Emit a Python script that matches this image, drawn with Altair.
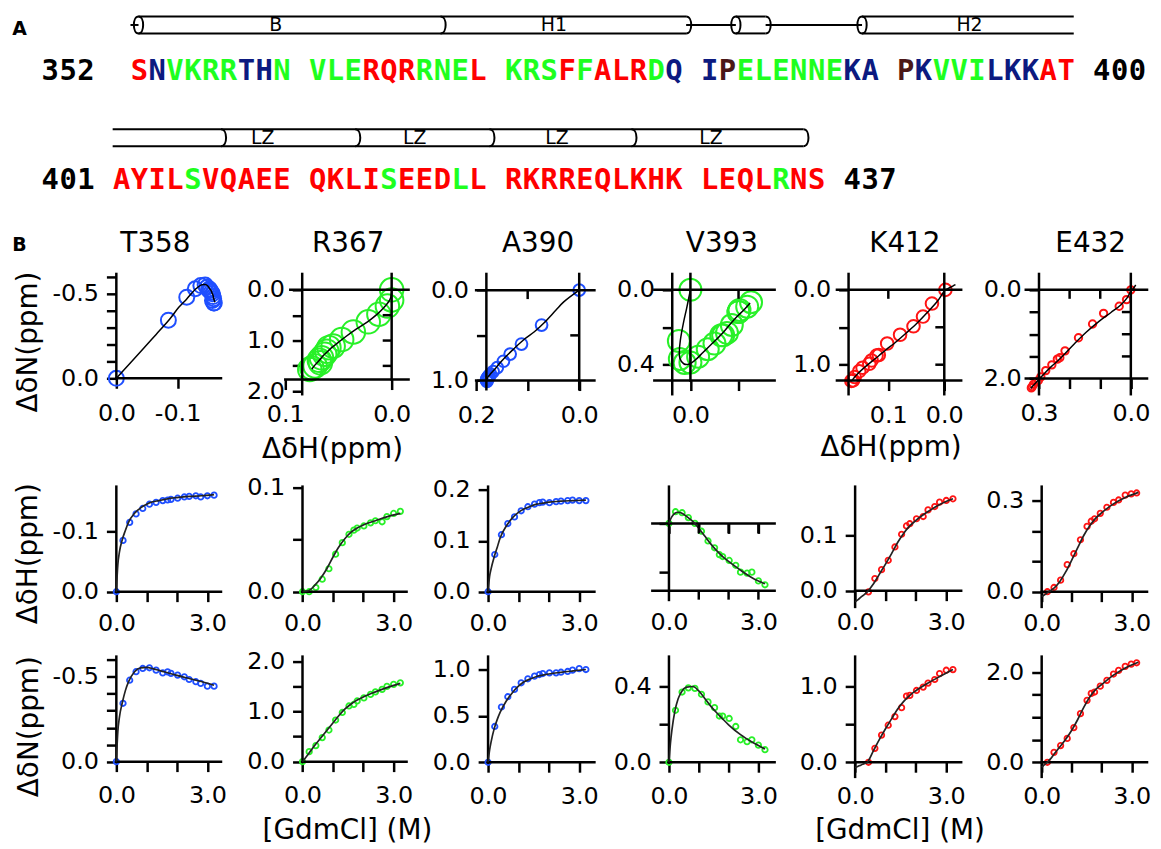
import altair as alt
import pandas as pd

FONT = "DejaVu Sans"
MONO = "DejaVu Sans Mono"

# ------------------------------------------------------------------ panel A data
SEQ_START = [352, 401]
SEQ_TEXT = ["SNVKRRTHN VLERQRRNEL KRSFFALRDQ IPELENNEKA PKVVILKKAT",
            "AYILSVQAEE QKLISEEDLL RKRREQLKHK LEQLRNS"]
# colour class of every residue: r red, g green, b navy, p brown
SEQ_CLASS = ["rbggggbbg gggrrrgggr gggrgrrrgb bpggggggbb pbgggbbbrr",
             "rrrrgrrrrr rrrrgrrrgr rrrrrrrrrr rrrrgrr"]
SEQ_LEAD = [1, 0]
CLASS_NAMES = ["r", "g", "b", "p", "k"]
CLASS_COLORS = ["#ff0000", "#1eff1e", "#0c1a80", "#4b1717", "#000000"]

# secondary-structure cartoon, in sequence-grid units
SS_TUBES = [(0, 1.45, 32.18), (0, 34.97, 36.64), (0, 42.05, 53.93), (1, 0.0, 38.76)]
SS_LINKS = [(0, 1.0, 1.45), (0, 32.18, 34.97), (0, 36.64, 42.05)]
SS_OPEN = [(0, 1.45), (0, 34.97), (0, 42.05)]
SS_CLOSE = [(0, 18.4), (0, 32.18), (0, 36.64), (1, 6.08), (1, 13.61), (1, 21.14),
            (1, 29.11), (1, 38.76)]
SS_LABELS = [(0, 9.15, "B"), (0, 24.76, "H1"), (0, 48.08, "H2"),
             (1, 8.42, "LZ"), (1, 16.95, "LZ"), (1, 24.93, "LZ"), (1, 33.57, "LZ")]

# ------------------------------------------------------------------ panel B data
RESIDUES = ["T358", "R367", "A390", "V393", "K412", "E432"]
RES_COLORS = ["#1f4fff", "#28f028", "#1f4fff", "#28f028", "#ff1414", "#ff1414"]

CONC = [0, 0.22, 0.44, 0.65, 0.87, 1.09, 1.31, 1.53, 1.69, 1.8, 2.02, 2.24, 2.4,
        2.62, 2.78, 3.0, 3.22]
FIT_C = [0, 0.05, 0.1, 0.2, 0.3, 0.4, 0.6, 0.8, 1.0, 1.2, 1.4, 1.6, 1.8, 2.0, 2.4,
         2.8, 3.22]

T358_C = CONC
T358_H = [0, -0.085, -0.115, -0.129, -0.138, -0.145, -0.148, -0.151, -0.152, -0.153,
          -0.155, -0.157, -0.158, -0.159, -0.157, -0.159, -0.160]
T358_N = [0, -0.344, -0.48, -0.53, -0.549, -0.553, -0.539, -0.523, -0.529, -0.52,
          -0.51, -0.50, -0.484, -0.471, -0.461, -0.445, -0.445]
T358_FH = [0, -0.045, -0.065, -0.087, -0.102, -0.115, -0.13, -0.139, -0.145, -0.149,
           -0.151, -0.153, -0.155, -0.156, -0.158, -0.159, -0.161]
T358_FN = [0, -0.18, -0.26, -0.35, -0.42, -0.47, -0.53, -0.553, -0.555, -0.548,
           -0.538, -0.528, -0.518, -0.508, -0.49, -0.472, -0.45]

R367_C = CONC
R367_H = [0, 0.0, 0.004, 0.012, 0.022, 0.036, 0.047, 0.055, 0.059, 0.061, 0.063,
          0.066, 0.068, 0.067, 0.072, 0.075, 0.077]
R367_N = [0, 0.2, 0.32, 0.48, 0.63, 0.83, 0.98, 1.11, 1.14, 1.21, 1.27, 1.34, 1.39,
          1.44, 1.5, 1.54, 1.57]
R367_FH = [0, 0.0, 0.0003, 0.001, 0.003, 0.006, 0.013, 0.022, 0.033, 0.043, 0.051,
           0.057, 0.061, 0.064, 0.068, 0.072, 0.075]
R367_FN = [0, 0.04, 0.08, 0.16, 0.24, 0.32, 0.47, 0.62, 0.77, 0.92, 1.05, 1.15, 1.23,
           1.29, 1.39, 1.48, 1.56]

A390_C = CONC
A390_H = [0, 0.073, 0.112, 0.134, 0.147, 0.159, 0.167, 0.172, 0.175, 0.176, 0.175,
          0.177, 0.178, 0.179, 0.18, 0.179, 0.179]
A390_N = [0, 0.386, 0.596, 0.707, 0.786, 0.857, 0.9, 0.929, 0.946, 0.957, 0.964,
          0.964, 0.971, 0.979, 0.993, 1.01, 1.0]
A390_FH = [0, 0.03, 0.045, 0.068, 0.087, 0.106, 0.129, 0.145, 0.156, 0.163, 0.168,
           0.172, 0.174, 0.176, 0.178, 0.179, 0.18]
A390_FN = [0, 0.13, 0.22, 0.36, 0.46, 0.54, 0.66, 0.75, 0.82, 0.87, 0.9, 0.925, 0.94,
           0.952, 0.97, 0.985, 1.0]

V393_C = CONC
V393_H = [0, 0.012, 0.011, 0.006, 0.0, -0.008, -0.018, -0.025, -0.032, -0.034, -0.038,
          -0.043, -0.05, -0.051, -0.05, -0.059, -0.063]
V393_N = [0, 0.273, 0.369, 0.391, 0.388, 0.357, 0.317, 0.287, 0.243, 0.243, 0.23,
          0.188, 0.118, 0.108, 0.118, 0.09, 0.066]
V393_FH = [0, 0.004, 0.007, 0.0105, 0.0115, 0.011, 0.007, 0.002, -0.005, -0.013,
           -0.021, -0.028, -0.034, -0.039, -0.048, -0.056, -0.062]
V393_FN = [0, 0.1, 0.17, 0.27, 0.33, 0.365, 0.395, 0.398, 0.375, 0.335, 0.295, 0.26,
           0.228, 0.197, 0.145, 0.105, 0.07]

K412_C = CONC[2:]
K412_H = [-0.002, 0.022, 0.038, 0.055, 0.079, 0.102, 0.117, 0.121, 0.13, 0.134, 0.146,
          0.152, 0.16, 0.163, 0.166]
K412_N = [0, 0.183, 0.357, 0.487, 0.6, 0.717, 0.87, 0.878, 0.943, 0.987, 1.04, 1.087,
          1.165, 1.209, 1.217]
K412_FH = [-0.02, -0.018, -0.016, -0.011, -0.007, -0.002, 0.012, 0.03, 0.048, 0.067,
           0.087, 0.104, 0.117, 0.127, 0.143, 0.156, 0.166]
K412_FN = [-0.07, -0.062, -0.053, -0.035, -0.018, 0.0, 0.15, 0.3, 0.44, 0.57, 0.7,
           0.8, 0.88, 0.94, 1.04, 1.13, 1.22]

E432_C = [0.19, 0.41, 0.63, 0.85, 1.07, 1.29, 1.51, 1.65, 1.76, 1.95, 2.17, 2.39, 2.56,
          2.78, 2.98, 3.16]
E432_H = [0.0, 0.014, 0.038, 0.089, 0.125, 0.171, 0.215, 0.232, 0.24, 0.258, 0.278,
          0.294, 0.302, 0.318, 0.322, 0.325]
E432_N = [0, 0.22, 0.37, 0.53, 0.77, 1.08, 1.375, 1.53, 1.56, 1.69, 1.82, 1.96, 2.04,
          2.13, 2.18, 2.21]
E432_FH = [-0.016, -0.013, -0.01, -0.003, 0.004, 0.011, 0.033, 0.065, 0.104, 0.145,
           0.185, 0.217, 0.242, 0.26, 0.29, 0.311, 0.327]
E432_FN = [-0.11, -0.08, -0.05, 0.01, 0.08, 0.17, 0.34, 0.51, 0.71, 0.95, 1.22, 1.45,
           1.62, 1.73, 1.94, 2.1, 2.22]

DATA = {
    "T358": (T358_C, T358_H, T358_N, T358_FH, T358_FN),
    "R367": (R367_C, R367_H, R367_N, R367_FH, R367_FN),
    "A390": (A390_C, A390_H, A390_N, A390_FH, A390_FN),
    "V393": (V393_C, V393_H, V393_N, V393_FH, V393_FN),
    "K412": (K412_C, K412_H, K412_N, K412_FH, K412_FN),
    "E432": (E432_C, E432_H, E432_N, E432_FH, E432_FN),
}

# tick values and tick labels: (row, col) -> (y ticks, y labels, x ticks, x labels)
GDM_T, GDM_L = [0, 1, 2, 3], ["0.0", "", "", "3.0"]
TICKS = {
    (0, 0): ([0, -0.1, -0.2, -0.3, -0.4, -0.5, -0.6], ["0.0", "", "", "", "", "-0.5", ""],
             [0, -0.1], ["0.0", "-0.1"]),
    (0, 1): ([0, 0.5, 1.0, 1.5, 2.0], ["0.0", "", "1.0", "", "2.0"], [0.1, 0.0], ["0.1", "0.0"]),
    (0, 2): ([0, 0.5, 1.0], ["0.0", "", "1.0"], [0.2, 0.1, 0.0], ["0.2", "", "0.0"]),
    (0, 3): ([0, 0.2, 0.4], ["0.0", "", "0.4"], [0.0, -0.05], ["0.0", ""]),
    (0, 4): ([0, 0.5, 1.0], ["0.0", "", "1.0"], [0.1, 0.0], ["0.1", "0.0"]),
    (0, 5): ([0, 0.5, 1.0, 1.5, 2.0], ["0.0", "", "", "", "2.0"], [0.3, 0.2, 0.1, 0.0],
             ["0.3", "", "", "0.0"]),
    (1, 0): ([0, -0.1], ["0.0", "-0.1"], GDM_T, GDM_L),
    (1, 1): ([0, 0.05, 0.1], ["0.0", "", "0.1"], GDM_T, GDM_L),
    (1, 2): ([0, 0.1, 0.2], ["0.0", "0.1", "0.2"], GDM_T, GDM_L),
    (1, 3): ([0, -0.05], ["", ""], GDM_T, GDM_L),
    (1, 4): ([0, 0.1], ["0.0", "0.1"], GDM_T, GDM_L),
    (1, 5): ([0, 0.1, 0.2, 0.3], ["0.0", "", "", "0.3"], GDM_T, GDM_L),
    (2, 0): ([0, -0.1, -0.2, -0.3, -0.4, -0.5, -0.6], ["0.0", "", "", "", "", "-0.5", ""],
             GDM_T, GDM_L),
    (2, 1): ([0, 0.5, 1.0, 1.5, 2.0], ["0.0", "", "1.0", "", "2.0"], GDM_T, GDM_L),
    (2, 2): ([0, 0.5, 1.0], ["0.0", "0.5", "1.0"], GDM_T, GDM_L),
    (2, 3): ([0, 0.2, 0.4], ["0.0", "", "0.4"], GDM_T, GDM_L),
    (2, 4): ([0, 0.5, 1.0], ["0.0", "", "1.0"], GDM_T, GDM_L),
    (2, 5): ([0, 0.5, 1.0, 1.5, 2.0], ["0.0", "", "", "", "2.0"], GDM_T, GDM_L),
}

Y_TITLES = ["\u0394\u03b4N(ppm)", "\u0394\u03b4H(ppm)", "\u0394\u03b4N(ppm)"]
X_TITLES = {(0, 1): "\u0394\u03b4H(ppm)", (0, 4): "\u0394\u03b4H(ppm)",
            (2, 1): "[GdmCl] (M)", (2, 4): "[GdmCl] (M)"}

# ------------------------------------------------------------------ layout (page pixels)
GRID_X = [116.7, 285, 478, 671.7, 852, 1043, 1152]
ROW_EDGES = [272, 486, 657, 778]
A_TOP = 12
TOP_ANCHOR = 10
SEQ_X0, SEQ_DX, SEQ_Y0, SEQ_DY = 113.0, 17.93, 77.0, 110.0
CART_DY = [-55.5, -52.0]
CART_HALF = 8.5

TITLE_CX = [156, 350, 541, 726, 910, 1097]
TITLE_CY = 242
A_LABEL_Y, B_LABEL_Y = 26, 243
YTITLE_POS = [(28, 340), (28, 553), (29, 727)]
XTITLE_POS = {(0, 1): (333, 449), (0, 4): (894, 447), (2, 1): (348, 832), (2, 4): (903, 832)}
XLABEL_PAD = [13, 10, 12]
MIRROR_TICK = 9

GDM_XCAL = [(116.7, 0, 208.3, 3), (303.3, 0, 395, 3), (490, 0, 581.7, 3),
            (671.7, 0, 761.7, 3), (858.3, 0, 950, 3), (1046, 0, 1136.7, 3)]

GEOM = [
    [  # row 0: dN vs dH
        dict(xcal=(116.7, 0.0, 178.3, -0.1), ycal=(377, 0.0, 292, -0.5), yax=116.7, xax=377,
             yline=(272, 377), xline=(116.7, 222), hz=[], vz=[]),
        dict(xcal=(286, 0.1, 393, 0.0), ycal=(288, 0.0, 390, 2.0), yax=303, xax=378.3,
             yline=(272, 393), xline=(286, 410), hz=[(288, 291, 410)], vz=[(393, 272, 378.3)],
             mirror_right=True),
        dict(xcal=(478, 0.2, 581.7, 0.0), ycal=(288.3, 0.0, 379.3, 1.0), yax=488.3, xax=379.3,
             yline=(272, 388), xline=(478, 597), hz=[(288.3, 478, 597)], vz=[(581.7, 272, 388)],
             mirror_right=True),
        dict(xcal=(693.3, 0.0, 741.7, -0.05), ycal=(288, 0.0, 363.3, 0.4), yax=675, xax=379.3,
             yline=(272, 393), xline=(657, 778), hz=[(288, 657, 778)], vz=[(693.3, 272, 379.3)],
             mirror_right=False),
        dict(xcal=(891.7, 0.1, 948, 0.0), ycal=(288, 0.0, 363.3, 1.0), yax=851.7, xax=379.3,
             yline=(272, 393), xline=(840, 965), hz=[(288, 840, 965)], vz=[(948, 272, 393)],
             mirror_right=True),
        dict(xcal=(1043.3, 0.3, 1135.7, 0.0), ycal=(288, 0.0, 377.3, 2.0), yax=1043.3, xax=377.3,
             yline=(272, 393), xline=(1030, 1152), hz=[(288, 1030, 1152)], vz=[(1135.7, 272, 393)],
             mirror_right=True),
    ],
    [  # row 1: dH vs GdmCl
        dict(ycal=(591.7, 0, 531, -0.1), xax=591.7, yline=(486, 591.7), xline=(116.7, 222)),
        dict(ycal=(591.7, 0, 486.7, 0.1), xax=591.7, yline=(486, 591.7), xline=(303.3, 408)),
        dict(ycal=(591.7, 0, 489.3, 0.2), xax=591.7, yline=(486, 591.7), xline=(490, 597)),
        dict(ycal=(523, 0, 572, -0.05), xax=523, yline=(486, 600), xline=(655, 778),
             hz=[(590.7, 655, 778)], labextra=67.7),
        dict(ycal=(590.7, 0, 535, 0.1), xax=590.7, yline=(486, 607), xline=(858.3, 965)),
        dict(ycal=(591.7, 0, 500, 0.3), xax=591.7, yline=(486, 607), xline=(1046, 1152)),
    ],
    [  # row 2: dN vs GdmCl
        dict(ycal=(762.7, 0, 677.3, -0.5), xax=762.7, yline=(657, 762.7), xline=(116.7, 222)),
        dict(ycal=(762.7, 0, 661.7, 2.0), xax=762.7, yline=(657, 762.7), xline=(303.3, 408)),
        dict(ycal=(763.3, 0, 670, 1.0), xax=763.3, yline=(657, 763.3), xline=(490, 597)),
        dict(ycal=(763.3, 0, 686.7, 0.4), xax=763.3, yline=(657, 763.3), xline=(671.7, 778)),
        dict(ycal=(763.3, 0, 686.7, 1.0), xax=763.3, yline=(657, 778), xline=(858.3, 965)),
        dict(ycal=(763.3, 0, 672.7, 2.0), xax=763.3, yline=(657, 778), xline=(1046, 1152)),
    ],
]
ROW1_SIZE = [227, 560, 139, 490, 161, 55]


def cal(p0, v0, p1, v1):
    k = (v1 - v0) / (p1 - p0)
    return lambda p: v0 + (p - p0) * k


def label_expr(vals, labs):
    parts = [f"datum.value == {v} ? '{l}'" for v, l in zip(vals, labs) if l]
    if not parts:
        return "''"
    return " : ".join(parts) + " : ''"


# ------------------------------------------------------------------ panel A overlay
A_W = GRID_X[-1] - GRID_X[0]


def gu(px):
    return (px - SEQ_X0) / SEQ_DX


def gv(py):
    return (py - SEQ_Y0) / SEQ_DY


xa = alt.Scale(domain=[gu(GRID_X[0]), gu(GRID_X[-1])], range=[0, A_W], nice=False, zero=False)
ya = alt.Scale(domain=[gv(ROW_EDGES[0]), gv(A_TOP)], range=[0, -(ROW_EDGES[0] - A_TOP)],
               nice=False, zero=False)

letters = []
for r in range(2):
    text, cls, lead = SEQ_TEXT[r], SEQ_CLASS[r], SEQ_LEAD[r]
    for i, (ch, cl) in enumerate(zip(text, cls)):
        if ch != " ":
            letters.append(dict(u=lead + i + 0.5, v=r, t=ch, c=cl))
    n_res = sum(ch != " " for ch in text)
    start, end = str(SEQ_START[r]), str(SEQ_START[r] + n_res - 1)
    for j, ch in enumerate(start):
        letters.append(dict(u=-4 + j + 0.5, v=r, t=ch, c="k"))
    e0 = lead + len(text) + 1
    for j, ch in enumerate(end):
        letters.append(dict(u=e0 + j + 0.5, v=r, t=ch, c="k"))
letters = pd.DataFrame(letters)


def cart_v(r):
    return r + CART_DY[r] / SEQ_DY


hv = CART_HALF / SEQ_DY
tube_rows = []
for r, u0, u1 in SS_TUBES:
    tube_rows.append(dict(u=u0, u2=u1, v=cart_v(r) - hv))
    tube_rows.append(dict(u=u0, u2=u1, v=cart_v(r) + hv))
for r, u0, u1 in SS_LINKS:
    tube_rows.append(dict(u=u0, u2=u1, v=cart_v(r)))
tube_df = pd.DataFrame(tube_rows)
open_df = pd.DataFrame([dict(u=u, v=cart_v(r)) for r, u in SS_OPEN])
close_df = pd.DataFrame([dict(u=u, v=cart_v(r)) for r, u in SS_CLOSE])
sslab_df = pd.DataFrame([dict(u=u, v=cart_v(r), t=t) for r, u, t in SS_LABELS])
panel_lab = pd.DataFrame([dict(u=gu(12), v=gv(A_LABEL_Y), t="A"),
                          dict(u=gu(12), v=gv(B_LABEL_Y), t="B")])
col_titles = pd.DataFrame([dict(u=gu(cx), v=gv(TITLE_CY), t=name)
                           for cx, name in zip(TITLE_CX, RESIDUES)])
anchor_df = pd.DataFrame([dict(u=gu(200), u2=gu(300), v=gv(TOP_ANCHOR))])

ELLIPSE = "M0,-1C0.73,-1,0.73,1,0,1C-0.73,1,-0.73,-1,0,-1Z"
END_ARC = "M0,-1C0.8,-1,0.8,1,0,1"
cap_size = (2 * CART_HALF) ** 2

ax_u = alt.X("u:Q", scale=xa, axis=None)
ax_v = alt.Y("v:Q", scale=ya, axis=None)
overlay = [
    alt.Chart(anchor_df).mark_rule(strokeWidth=0.01, opacity=0).encode(
        x=ax_u, x2="u2:Q", y=ax_v),
    alt.Chart(tube_df).mark_rule(color="black", strokeWidth=2).encode(
        x=ax_u, x2="u2:Q", y=ax_v),
    alt.Chart(open_df).mark_point(
        shape=ELLIPSE, size=cap_size, filled=False, color="black", strokeWidth=2,
        opacity=1).encode(x=ax_u, y=ax_v),
    alt.Chart(close_df).mark_point(
        shape=END_ARC, size=cap_size, filled=False, color="black", strokeWidth=2,
        opacity=1).encode(x=ax_u, y=ax_v),
    alt.Chart(sslab_df).mark_text(
        font=FONT, fontSize=19, align="center", baseline="middle", color="black").encode(
        x=ax_u, y=ax_v, text="t:N"),
    alt.Chart(letters).mark_text(
        font=MONO, fontWeight="bold", fontSize=29, align="center", baseline="alphabetic").encode(
        x=ax_u, y=ax_v, text="t:N",
        color=alt.Color("c:N", scale=alt.Scale(domain=CLASS_NAMES, range=CLASS_COLORS),
                        legend=None)),
    alt.Chart(panel_lab).mark_text(
        font=FONT, fontWeight="bold", fontSize=19, align="left", baseline="middle",
        color="black").encode(x=ax_u, y=ax_v, text="t:N"),
    alt.Chart(col_titles).mark_text(
        font=FONT, fontSize=28, align="center", baseline="middle", color="black").encode(
        x=ax_u, y=ax_v, text="t:N"),
]


# ------------------------------------------------------------------ panel B
def make_panel(r, k, extra=None):
    g = dict(GEOM[r][k])
    if r > 0:
        g.setdefault("xcal", GDM_XCAL[k])
        g.setdefault("yax", GDM_XCAL[k][0])
    L, R = GRID_X[k], GRID_X[k + 1]
    T, B = ROW_EDGES[r], ROW_EDGES[r + 1]
    W, H = R - L, B - T
    fx, fy = cal(*g["xcal"]), cal(*g["ycal"])
    px_of = cal(g["xcal"][1], g["xcal"][0], g["xcal"][3], g["xcal"][2])
    py_of = cal(g["ycal"][1], g["ycal"][0], g["ycal"][3], g["ycal"][2])
    xs = alt.Scale(domain=[fx(L), fx(R)], nice=False, zero=False)
    ys = alt.Scale(domain=[fy(B), fy(T)], nice=False, zero=False)
    xc, yc = fx(g["yax"]), fy(g["xax"])

    yt, yl, xt, xl = TICKS[(r, k)]
    yax_kw = dict(orient="left", values=yt, labelExpr=label_expr(yt, yl),
                  offset=-(g["yax"] - L), labelPadding=8, title=None)
    if k == 0:
        cx, cy = YTITLE_POS[r]
        yax_kw.update(title=Y_TITLES[r], titleAngle=270, titleAlign="center",
                      titleBaseline="middle", titleX=cx - g["yax"], titleY=cy - T)
    xax_kw = dict(orient="bottom", values=xt, labelExpr=label_expr(xt, xl),
                  offset=-(B - g["xax"]),
                  labelPadding=XLABEL_PAD[r] + g.get("labextra", 0), title=None)
    if (r, k) in X_TITLES:
        cx, cy = XTITLE_POS[(r, k)]
        xax_kw.update(title=X_TITLES[(r, k)], titleAngle=0, titleAlign="center",
                      titleBaseline="middle", titleX=cx - L, titleY=cy - g["xax"])

    segs = [dict(x=xc, x2=xc, y=fy(g["yline"][0]), y2=fy(g["yline"][1])),
            dict(x=fx(g["xline"][0]), x2=fx(g["xline"][1]), y=yc, y2=yc)]
    for py, px0, px1 in g.get("hz", []):
        segs.append(dict(x=fx(px0), x2=fx(px1), y=fy(py), y2=fy(py)))
    for px, py0, py1 in g.get("vz", []):
        segs.append(dict(x=fx(px), x2=fx(px), y=fy(py0), y2=fy(py1)))

    # inward ticks on the zero lines that close the frame (row 0 only)
    top_ticks, right_ticks = [], []
    for py, px0, px1 in g.get("hz", []):
        for v in xt:
            p = px_of(v)
            if v != 0 and g["yax"] + 3 < p < px1 - 3:
                top_ticks.append(dict(x=v, y=fy(py)))
    if g.get("mirror_right"):
        for px, py0, py1 in g.get("vz", []):
            for v in yt:
                p = py_of(v)
                if v != 0 and py0 + 20 < p < g["xax"] - 3:
                    right_ticks.append(dict(x=fx(px), y=v))

    name = RESIDUES[k]
    C, Hs, Ns, FH, FN = DATA[name]
    if r == 0:
        pdf = pd.DataFrame({"x": Hs, "y": Ns, "c": C})
        fdf = pd.DataFrame({"x": FH, "y": FN, "c": FIT_C})
        psize, pstroke, interp, lcol, lw = ROW1_SIZE[k], 2.0, "catmull-rom", "black", 1.5
    elif r == 1:
        pdf = pd.DataFrame({"x": C, "y": Hs, "c": C})
        fdf = pd.DataFrame({"x": FIT_C, "y": FH, "c": FIT_C})
        psize, pstroke, interp, lcol, lw = 30, 1.8, "monotone", "#222222", 1.7
    else:
        pdf = pd.DataFrame({"x": C, "y": Ns, "c": C})
        fdf = pd.DataFrame({"x": FIT_C, "y": FN, "c": FIT_C})
        psize, pstroke, interp, lcol, lw = 30, 1.8, "monotone", "#222222", 1.7

    pts = alt.Chart(pdf).mark_point(
        filled=False, size=psize, strokeWidth=pstroke, color=RES_COLORS[k], opacity=1).encode(
        x=alt.X("x:Q", scale=xs, axis=alt.Axis(**xax_kw)),
        y=alt.Y("y:Q", scale=ys, axis=alt.Axis(**yax_kw)))
    rules = alt.Chart(pd.DataFrame(segs)).mark_rule(
        color="black", strokeWidth=2.5, strokeCap="square").encode(
        x=alt.X("x:Q", scale=xs, axis=None), x2="x2:Q",
        y=alt.Y("y:Q", scale=ys, axis=None), y2="y2:Q")
    line = alt.Chart(fdf).mark_line(color=lcol, strokeWidth=lw, interpolate=interp).encode(
        x=alt.X("x:Q", scale=xs, axis=None), y=alt.Y("y:Q", scale=ys, axis=None),
        order="c:Q")
    layers = [pts, rules, line]
    nx = alt.X("x:Q", scale=xs, axis=None)
    ny = alt.Y("y:Q", scale=ys, axis=None)
    if r == 1 and k == 3:
        layers.append(alt.Chart(pd.DataFrame({"x": [1, 2, 3], "y": [0, 0, 0]})).mark_tick(
            orient="vertical", size=10, thickness=2.5, color="black", yOffset=5,
            opacity=1).encode(x=nx, y=ny))
    if top_ticks:
        layers.append(alt.Chart(pd.DataFrame(top_ticks)).mark_tick(
            orient="vertical", size=MIRROR_TICK, thickness=2.5, color="black",
            yOffset=MIRROR_TICK / 2, opacity=1).encode(x=nx, y=ny))
    if right_ticks:
        layers.append(alt.Chart(pd.DataFrame(right_ticks)).mark_tick(
            orient="horizontal", size=MIRROR_TICK, thickness=2.5, color="black",
            xOffset=-MIRROR_TICK / 2, opacity=1).encode(x=nx, y=ny))
    if extra:
        layers += extra
    ch = alt.layer(*layers).properties(width=W, height=H)
    return ch.resolve_scale(x="independent", y="independent")


panels = []
for r in range(3):
    for k in range(6):
        panels.append(make_panel(r, k, overlay if (r == 0 and k == 0) else None))

chart = alt.concat(*panels, columns=6, spacing=0, bounds="flush").properties(
    padding={"left": 4, "top": TOP_ANCHOR - 8, "right": 2, "bottom": 4})
chart = chart.configure_view(stroke=None).configure_axis(
    labelFont=FONT, labelFontSize=24, labelColor="black", labelFontWeight="normal",
    tickColor="black", tickWidth=2.5, tickSize=10, domain=False, grid=False,
    labelFlush=False, labelOverlap=False, titleFont=FONT, titleFontSize=28,
    titleFontWeight="normal", titleColor="black")

chart.save("out.html", embed_options={"renderer": "svg", "actions": False})
